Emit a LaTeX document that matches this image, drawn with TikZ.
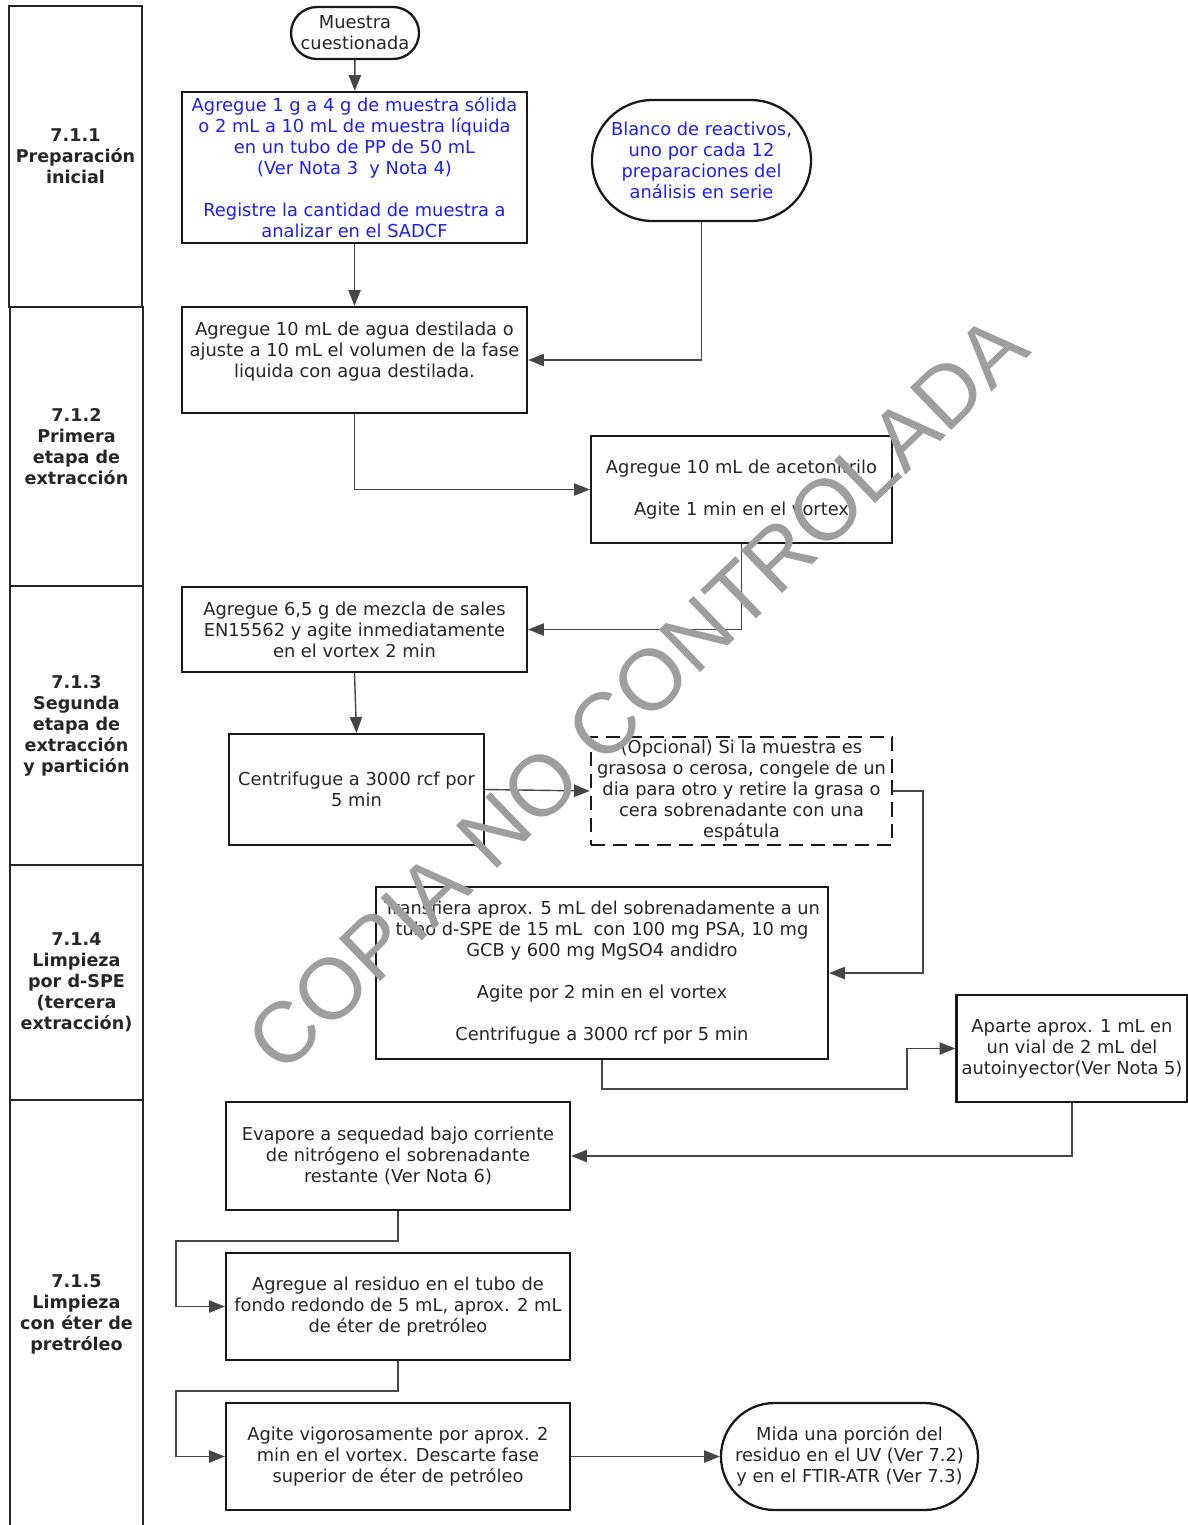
\documentclass[tikz,border=0pt]{standalone}
\usepackage{fontspec}
\setmainfont{DejaVu Sans}
\newfontfamily\wmfont{Liberation Sans}
\usetikzlibrary{arrows.meta,positioning}
\definecolor{notablue}{RGB}{30,30,250}
\definecolor{linkgray}{RGB}{70,70,70}

\begin{document}
\begin{tikzpicture}[
	every node/.style={font=\fontsize{10.15}{11.95}\selectfont, text=black!85},
	box/.style={draw=black!90, line width=1.3pt, fill=white, align=center, inner sep=1pt},
	optbox/.style={box, dash pattern=on 8pt off 4.5pt},
	pill/.style={box},
	lane/.style={draw=black!85, line width=1.2pt, minimum width=2.66cm, align=center,
		font=\bfseries\fontsize{10}{11.95}\selectfont},
	link/.style={draw=linkgray, line width=0.8pt, -{Triangle[length=9pt,width=7pt]}}
	]
	\useasboundingbox (0,0) rectangle (23.76,-30.5);
	
	% Etapas (columna izquierda)
	\node[lane, minimum height=6.02cm] (etapa1) at (1.51,-3.13) {7.1.1\\Preparación\\inicial};
	\node[lane, minimum height=5.58cm] (etapa2) at (1.53,-8.93) {7.1.2\\Primera\\etapa de\\extracción};
	\node[lane, minimum height=5.58cm] (etapa3) at (1.53,-14.51) {7.1.3\\Segunda\\etapa de\\extracción\\y partición};
	\node[lane, minimum height=4.70cm] (etapa4) at (1.53,-19.65) {7.1.4\\Limpieza\\por d-SPE\\(tercera\\extracción)};
	\node[lane, minimum height=8.58cm] (etapa5) at (1.53,-26.29) {7.1.5\\Limpieza\\con éter de\\pretróleo};
	
	% Pasos
	\node[pill, minimum width=2.56cm, minimum height=1.04cm, rounded corners=0.52cm] (muestra) at (7.1,-0.66) {Muestra\\cuestionada};
	\node[box, text=notablue, minimum width=6.9cm, minimum height=3.02cm] (pesada) at (7.09,-3.35)
		{Agregue 1 g a 4 g de muestra sólida\\o 2 mL a 10 mL de muestra líquida\\en un tubo de PP de 50 mL\\(Ver Nota 3\ \ y Nota 4)\\[11.95pt]Registre la cantidad de muestra a\\analizar en el SADCF};
	\node[pill, text=notablue, minimum width=4.38cm, minimum height=2.42cm, rounded corners=1.21cm] (blanco) at (14.03,-3.21)
		{Blanco de reactivos,\\uno por cada 12\\preparaciones del\\análisis en serie};
	\node[box, minimum width=6.9cm, minimum height=2.12cm] (agua) at (7.09,-7.2)
		{Agregue 10 mL de agua destilada o\\ajuste a 10 mL el volumen de la fase\\liquida con agua destilada.\\~};
	\node[box, minimum width=6.02cm, minimum height=2.14cm] (aceto) at (14.83,-9.79)
		{Agregue 10 mL de acetonitrilo\\[11.95pt]Agite 1 min en el vortex};
	\node[box, minimum width=6.9cm, minimum height=1.7cm] (sales) at (7.09,-12.59)
		{Agregue 6,5 g de mezcla de sales\\EN15562 y agite inmediatamente\\en el vortex 2 min};
	\node[box, minimum width=5.1cm, minimum height=2.22cm] (centri) at (7.13,-15.79)
		{Centrifugue a 3000 rcf por\\5 min};
	\node[optbox, minimum width=6.02cm, minimum height=2.16cm] (grasa) at (14.83,-15.82)
		{(Opcional) Si la muestra es\\grasosa o cerosa, congele de un\\dia para otro y retire la grasa o\\cera sobrenadante con una\\espátula};
	\node[box, minimum width=9.04cm, minimum height=3.44cm] (dspe) at (12.04,-19.46)
		{Transfiera aprox. 5 mL del sobrenadamente a un\\tubo d-SPE de 15 mL\ \ con 100 mg PSA, 10 mg\\GCB y 600 mg MgSO4 andidro\\[11.95pt]Agite por 2 min en el vortex\\[11.95pt]Centrifugue a 3000 rcf por 5 min};
	\node[box, minimum width=4.62cm, minimum height=2.14cm] (vial) at (21.44,-20.97)
		{Aparte aprox. 1 mL en\\un vial de 2 mL del\\autoinyector(Ver Nota 5)};
	\node[box, minimum width=6.88cm, minimum height=2.16cm] (evapora) at (7.96,-23.12)
		{Evapore a sequedad bajo corriente\\de nitrógeno el sobrenadante\\restante (Ver Nota 6)};
	\node[box, minimum width=6.88cm, minimum height=2.14cm] (eter) at (7.96,-26.13)
		{Agregue al residuo en el tubo de\\fondo redondo de 5 mL, aprox. 2 mL\\de éter de pretróleo};
	\node[box, minimum width=6.88cm, minimum height=2.14cm] (agita) at (7.96,-29.13)
		{Agite vigorosamente por aprox. 2\\min en el vortex. Descarte fase\\superior de éter de petróleo};
	\node[pill, minimum width=5.14cm, minimum height=2.14cm, rounded corners=1.07cm] (mide) at (16.99,-29.13)
		{Mida una porción del\\residuo en el UV (Ver 7.2)\\y en el FTIR-ATR (Ver 7.3)};
	
	% Conectores
	\draw[link] (muestra) -- (pesada);
	\draw[link] (pesada) -- (agua);
	\draw[link] (blanco.south) |- (agua.east);
	\draw[link] (agua.south) |- (aceto.west);
	\draw[link] (aceto.south) |- (sales.east);
	\draw[link] (sales.south) -- (centri.north);
	\draw[link] (centri.east) -- (grasa.west);
	\draw[link] (grasa.east) -- ++(0.6,0) |- (dspe.east);
	\draw[link] (dspe.south) -- ++(0,-0.58) -| ([xshift=-0.97cm]vial.west) -- (vial.west);
	\draw[link] (vial.south) |- (evapora.east);
	\draw[link] (evapora.south) -- ++(0,-0.6) -| ([xshift=-0.98cm]eter.west) -- (eter.west);
	\draw[link] (eter.south) -- ++(0,-0.6) -| ([xshift=-0.98cm]agita.west) -- (agita.west);
	\draw[link] (agita) -- (mide);
	
	% Marca de agua
	\node[rotate=44, text=black!38, inner sep=0pt, font=\wmfont\fontsize{49}{60}\selectfont] (marca) at (12.74,-13.86) {COPIA NO CONTROLADA};
\end{tikzpicture}
\end{document}
